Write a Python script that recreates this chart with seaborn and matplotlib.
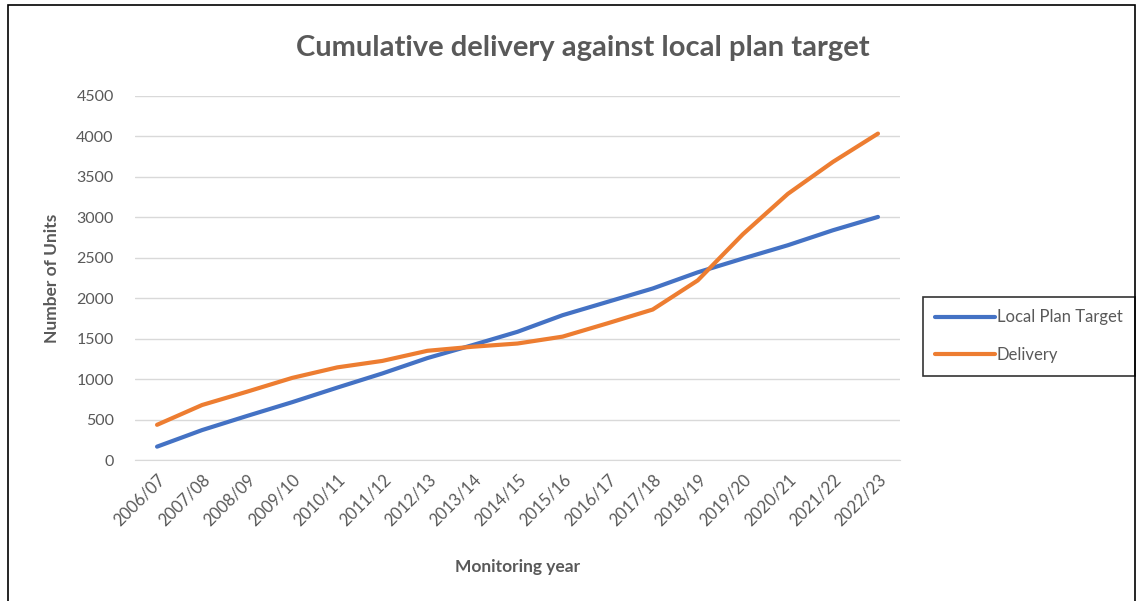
import pandas as pd
import matplotlib.pyplot as plt
import seaborn as sns
from matplotlib.patches import Rectangle

years = ["2006/07", "2007/08", "2008/09", "2009/10", "2010/11", "2011/12",
         "2012/13", "2013/14", "2014/15", "2015/16", "2016/17", "2017/18",
         "2018/19", "2019/20", "2020/21", "2021/22", "2022/23"]
target = [165, 370, 545, 715, 895, 1070, 1260, 1420, 1585, 1790,
          1955, 2120, 2320, 2490, 2655, 2840, 3005]
delivery = [435, 680, 845, 1015, 1145, 1225, 1350, 1400, 1440, 1525,
            1690, 1860, 2220, 2790, 3290, 3685, 4035]
series_names = ["Local Plan Target", "Delivery"]
colors = ["#4472C4", "#ED7D31"]


def main():
    df = pd.DataFrame({
        "year": years * 2,
        "units": target + delivery,
        "series": [series_names[0]] * len(years) + [series_names[1]] * len(years),
    })

    sns.set_style("white")
    plt.rcParams["font.family"] = ["Lato", "DejaVu Sans"]

    fig = plt.figure(figsize=(11.39, 6.01), dpi=100)
    ax = fig.add_axes([0.1181, 0.2346, 0.6725, 0.6057])

    sns.lineplot(data=df, x="year", y="units", hue="series",
                 palette=colors, linewidth=3, ax=ax, sort=False)

    ax.set_xlim(-0.5, len(years) - 0.5)
    ax.set_ylim(0, 4500)
    ax.set_yticks(range(0, 4501, 500))
    ax.yaxis.grid(True, color="#D9D9D9", linewidth=1)
    ax.set_axisbelow(True)
    for s in ax.spines.values():
        s.set_visible(False)
    ax.spines["bottom"].set_visible(True)
    ax.spines["bottom"].set_color("#D9D9D9")

    ax.tick_params(axis="y", length=0, labelsize=11.5, colors="#595959", pad=15)
    ax.tick_params(axis="x", length=0, labelsize=12, colors="#595959", pad=8)
    plt.setp(ax.get_xticklabels(), rotation=45, ha="right", rotation_mode="anchor")

    ax.set_xlabel("Monitoring year", fontsize=12.5, fontweight="bold",
                  color="#595959", labelpad=22)
    ax.set_ylabel("Number of Units", fontsize=12.5, fontweight="bold",
                  color="#595959", labelpad=12)

    fig.text(0.512, 0.92, "Cumulative delivery against local plan target",
             ha="center", va="center", fontsize=21, fontweight="bold",
             color="#595959")

    leg = ax.legend(loc="center left", bbox_to_anchor=(1.029, 0.34),
                    frameon=True, fancybox=False, fontsize=12,
                    handlelength=3.6, handletextpad=0.1, labelspacing=1.3,
                    borderpad=0.75, borderaxespad=0)
    leg.get_frame().set_edgecolor("black")
    leg.get_frame().set_linewidth(1.2)
    for t in leg.get_texts():
        t.set_color("#595959")

    fig.patches.append(Rectangle((8 / 1139, -0.01), 1127 / 1139, 1 - 5 / 601 + 0.01,
                                 transform=fig.transFigure, fill=False,
                                 edgecolor="black", linewidth=1.2))

    fig.savefig("out.png", dpi=100)
    plt.close()


if __name__ == "__main__":
    main()
